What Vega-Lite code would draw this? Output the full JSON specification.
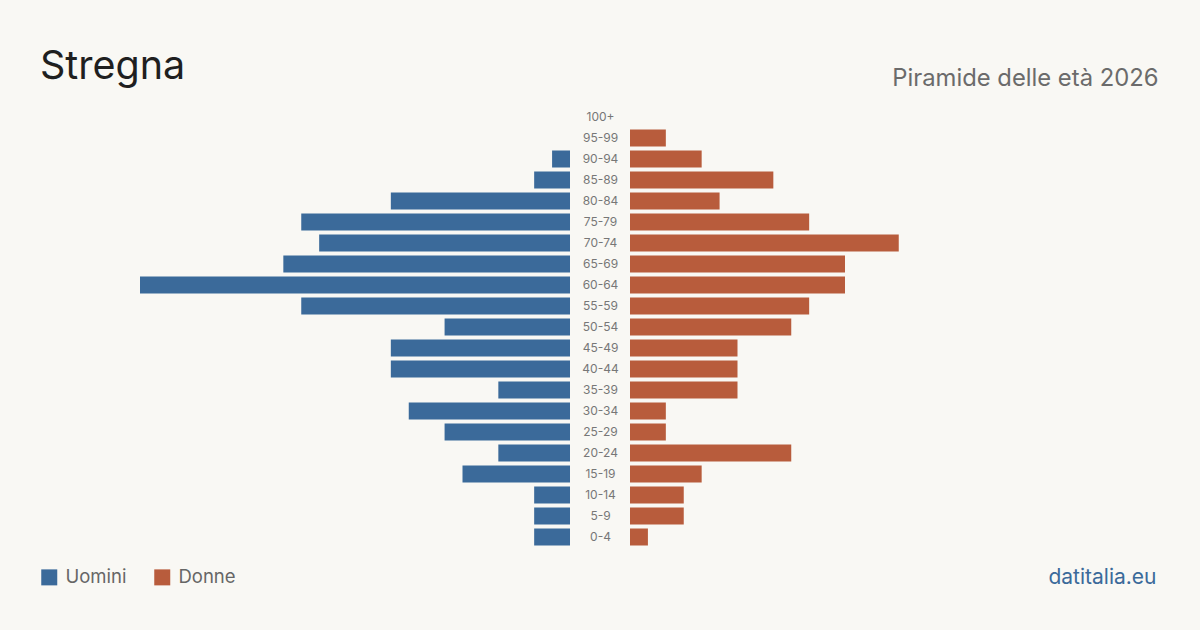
{
  "$schema": "https://vega.github.io/schema/vega-lite/v6.json",
  "width": 1200,
  "height": 630,
  "padding": 0,
  "autosize": "none",
  "background": "#f9f8f4",
  "config": {
    "view": {"stroke": null},
    "font": "Inter",
    "axis": {"grid": false, "domain": false, "ticks": false, "labels": false}
  },
  "title": {
    "text": "Stregna",
    "anchor": "start",
    "frame": "group",
    "orient": "top",
    "dx": 40,
    "offset": -118,
    "baseline": "alphabetic",
    "fontSize": 39.5,
    "fontWeight": "normal",
    "color": "#1f1f1f"
  },
  "datasets": {
    "pop": [
      {"eta": "100+", "Uomini": 0, "Donne": 0},
      {"eta": "95-99", "Uomini": 0, "Donne": 2},
      {"eta": "90-94", "Uomini": 1, "Donne": 4},
      {"eta": "85-89", "Uomini": 2, "Donne": 8},
      {"eta": "80-84", "Uomini": 10, "Donne": 5},
      {"eta": "75-79", "Uomini": 15, "Donne": 10},
      {"eta": "70-74", "Uomini": 14, "Donne": 15},
      {"eta": "65-69", "Uomini": 16, "Donne": 12},
      {"eta": "60-64", "Uomini": 24, "Donne": 12},
      {"eta": "55-59", "Uomini": 15, "Donne": 10},
      {"eta": "50-54", "Uomini": 7, "Donne": 9},
      {"eta": "45-49", "Uomini": 10, "Donne": 6},
      {"eta": "40-44", "Uomini": 10, "Donne": 6},
      {"eta": "35-39", "Uomini": 4, "Donne": 6},
      {"eta": "30-34", "Uomini": 9, "Donne": 2},
      {"eta": "25-29", "Uomini": 7, "Donne": 2},
      {"eta": "20-24", "Uomini": 4, "Donne": 9},
      {"eta": "15-19", "Uomini": 6, "Donne": 4},
      {"eta": "10-14", "Uomini": 2, "Donne": 3},
      {"eta": "5-9", "Uomini": 2, "Donne": 3},
      {"eta": "0-4", "Uomini": 2, "Donne": 1}
    ]
  },
  "data": {"name": "pop"},
  "encoding": {
    "y": {
      "field": "eta",
      "type": "nominal",
      "sort": null,
      "scale": {"range": [106.5, 547.5], "paddingInner": 0.19, "paddingOuter": 0.095},
      "axis": {
        "title": null,
        "orient": "left",
        "offset": -600,
        "labels": true,
        "labelAlign": "center",
        "labelPadding": 0,
        "tickSize": 0,
        "labelFontSize": 12,
        "labelColor": "#777777",
        "labelFont": "Inter"
      }
    }
  },
  "layer": [
    {
      "mark": {"type": "bar"},
      "encoding": {
        "x": {
          "field": "Uomini",
          "type": "quantitative",
          "scale": {"domain": [0, 24], "range": [570, 140], "nice": false},
          "axis": {
            "orient": "bottom",
            "title": "datitalia.eu",
            "titleX": 1156,
            "titleY": -47,
            "titleAlign": "right",
            "titleBaseline": "alphabetic",
            "titleAnchor": null,
            "titleFontSize": 21,
            "titleFontWeight": "normal",
            "titleColor": "#3b6a9a",
            "titleFont": "Inter"
          }
        },
        "color": {
          "datum": "Uomini",
          "type": "nominal",
          "scale": {"domain": ["Uomini", "Donne"], "range": ["#3b6a9a", "#b85c3c"]},
          "legend": {
            "title": null,
            "orient": "none",
            "legendX": 40,
            "legendY": 568,
            "direction": "horizontal",
            "symbolType": "square",
            "symbolSize": 256,
            "symbolStrokeWidth": 0,
            "symbolOpacity": 1,
            "labelFontSize": 18.5,
            "labelColor": "#666666",
            "labelFont": "Inter",
            "labelOffset": 7,
            "columnPadding": 26
          }
        }
      }
    },
    {
      "mark": {"type": "bar"},
      "encoding": {
        "x": {
          "field": "Donne",
          "type": "quantitative",
          "scale": {"domain": [0, 24], "range": [630, 1060], "nice": false},
          "axis": {
            "orient": "top",
            "title": "Piramide delle età 2026",
            "titleX": 1158,
            "titleY": 85,
            "titleAlign": "right",
            "titleBaseline": "alphabetic",
            "titleAnchor": null,
            "titleFontSize": 23.8,
            "titleFontWeight": "normal",
            "titleColor": "#6b6b6b",
            "titleFont": "Inter"
          }
        },
        "color": {"datum": "Donne", "type": "nominal"}
      }
    }
  ],
  "resolve": {"scale": {"x": "independent"}, "axis": {"x": "independent"}}
}
